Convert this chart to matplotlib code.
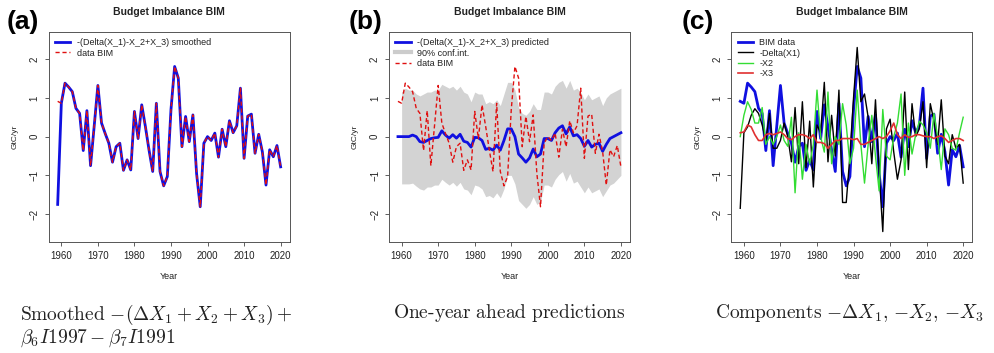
import matplotlib
matplotlib.use("Agg")
import matplotlib.pyplot as plt
from matplotlib.lines import Line2D

plt.rcParams["mathtext.fontset"] = "cm"
plt.rcParams["font.family"] = ["Liberation Sans", "DejaVu Sans"]

years = list(range(1959, 2021))

# data BIM
bim = [0.91, 0.86, 1.38, 1.28, 1.16, 0.73, 0.60, -0.36, 0.67, -0.75,
       0.28, 1.32, 0.35, 0.08, -0.17, -0.66, -0.26, -0.17, -0.87, -0.60,
       -0.86, 0.65, -0.05, 0.82, 0.26, -0.35, -0.90, 0.86, -0.90, -1.27,
       -1.03, 0.70, 1.81, 1.51, -0.26, 0.52, -0.13, 0.56, -0.95, -1.81,
       -0.17, 0.00, -0.10, 0.09, -0.53, 0.19, -0.26, 0.41, 0.10, 0.28,
       1.25, -0.56, 0.53, 0.58, -0.43, 0.06, -0.39, -1.25, -0.34, -0.52,
       -0.23, -0.78]

# smoothed -(Delta(X_1)-X_2+X_3)
smoothed = [-1.75, 0.86, 1.38, 1.28, 1.16, 0.73, 0.60, -0.36, 0.67, -0.75,
            0.28, 1.32, 0.35, 0.08, -0.17, -0.66, -0.26, -0.17, -0.87, -0.60,
            -0.86, 0.65, -0.05, 0.82, 0.26, -0.35, -0.90, 0.86, -0.90, -1.27,
            -1.03, 0.70, 1.81, 1.51, -0.26, 0.52, -0.13, 0.56, -0.95, -1.81,
            -0.17, 0.00, -0.10, 0.09, -0.53, 0.19, -0.26, 0.41, 0.10, 0.28,
            1.25, -0.56, 0.53, 0.58, -0.43, 0.06, -0.39, -1.25, -0.34, -0.52,
            -0.23, -0.78]

# one-year ahead predictions
predicted = [0.00, 0.00, 0.00, 0.00, 0.04, 0.00, -0.13, -0.15, -0.10, -0.05,
             -0.03, -0.02, 0.15, 0.04, -0.04, 0.05, -0.04, 0.06, -0.12, -0.15,
             -0.27, -0.02, -0.03, -0.10, -0.33, -0.30, -0.35, -0.22, -0.35, -0.10,
             0.20, 0.20, 0.00, -0.45, -0.55, -0.66, -0.55, -0.32, -0.52, -0.45,
             -0.05, -0.05, -0.10, 0.10, 0.22, 0.28, 0.07, 0.25, 0.02, 0.05,
             -0.05, -0.25, -0.10, -0.27, -0.20, -0.17, -0.38, -0.20, -0.05, 0.00,
             0.05, 0.10]

ci_years = list(range(1960, 2021))
ci_upper = [1.15, 1.25, 1.20, 1.20, 1.10, 1.05, 1.10, 1.15, 1.15, 1.20,
            1.20, 1.35, 1.30, 1.25, 1.30, 1.20, 1.30, 1.15, 1.10, 0.90,
            1.15, 1.10, 1.10, 0.85, 0.90, 0.85, 0.95, 0.80, 1.10, 1.40,
            1.40, 1.20, 0.75, 0.60, 0.55, 0.65, 0.85, 0.70, 0.70, 1.15,
            1.15, 1.10, 1.30, 1.40, 1.45, 1.25, 1.45, 1.20, 1.25, 1.15,
            0.95, 1.10, 0.95, 1.00, 1.05, 0.80, 1.00, 1.10, 1.15, 1.20,
            1.25]
ci_lower = [-1.22, -1.22, -1.22, -1.20, -1.28, -1.35, -1.38, -1.30, -1.30, -1.25,
            -1.25, -1.10, -1.18, -1.25, -1.18, -1.28, -1.18, -1.35, -1.38, -1.50,
            -1.25, -1.28, -1.35, -1.55, -1.52, -1.58, -1.45, -1.58, -1.35, -1.00,
            -1.00, -1.22, -1.65, -1.75, -1.85, -1.75, -1.55, -1.75, -1.68, -1.25,
            -1.25, -1.30, -1.10, -0.98, -0.90, -1.15, -0.95, -1.20, -1.15, -1.30,
            -1.45, -1.30, -1.45, -1.40, -1.35, -1.55, -1.40, -1.25, -1.20, -1.10,
            -1.00]

# components
neg_dx1 = [-1.85, 0.10, 0.25, 0.55, 0.72, 0.60, 0.30, -0.10, 0.60, -0.30,
           -0.30, -0.10, 0.35, 0.00, -0.65, 0.75, -0.70, 0.90, -0.80, 0.40,
           -1.30, 0.30, 0.10, 1.40, -0.65, 0.55, -0.50, 1.20, -1.70, -1.70,
           -0.50, 1.00, 2.30, 0.90, 1.10, 0.50, -0.70, 0.95, -0.90, -2.45,
           0.20, 0.45, -0.40, -1.10, -0.60, 1.15, -0.85, 0.85, 0.00, 0.20,
           0.90, -0.80, 0.85, 0.40, -0.20, 0.95, -0.50, -0.70, 0.05, -0.30,
           -0.20, -1.20]
neg_x2 = [0.00, 0.55, 0.90, 0.70, 0.35, 0.35, 0.75, -0.20, 0.00, -0.20,
          0.00, 0.30, -0.10, -0.25, 0.50, -1.45, 0.10, -1.10, -0.20, -0.70,
          -0.20, 1.20, 0.00, -0.40, 1.15, -0.70, 0.00, -0.20, 0.85, 0.30,
          -0.70, -0.30, 1.20, -0.20, -1.20, -0.20, 0.55, -0.50, -1.40, 0.70,
          -0.50, -0.60, 0.00, 0.35, 1.10, -1.00, 0.35, -0.45, 0.05, 0.40,
          0.30, 0.10, -0.30, 0.60, 0.00, -0.85, 0.20, 0.05, -0.30, -0.35,
          0.10, 0.50]
neg_x3 = [0.10, 0.12, 0.30, 0.25, 0.05, -0.10, -0.10, 0.05, 0.08, 0.05,
          0.08, 0.12, 0.05, -0.05, -0.08, 0.00, 0.05, 0.05, 0.02, -0.05,
          0.05, -0.15, -0.15, -0.18, -0.30, -0.20, -0.10, -0.10, -0.05, -0.05,
          -0.05, -0.08, -0.05, -0.20, -0.20, -0.15, -0.10, -0.05, 0.00, -0.05,
          0.00, 0.15, 0.35, 0.05, -0.05, 0.05, -0.02, 0.00, 0.05, 0.05,
          0.02, 0.00, 0.00, -0.05, 0.00, 0.02, -0.05, -0.15, -0.10, -0.05,
          -0.05, -0.10]

panel_tags = ["(a)", "(b)", "(c)"]
caption_a1 = r"$\mathrm{Smoothed}\ {-}(\Delta X_1 + X_2 + X_3) +$"
caption_a2 = r"$\beta_6 I1997 - \beta_7 I1991$"
caption_b = r"$\mathrm{One\text{-}year\ ahead\ predictions}$"
caption_c = r"$\mathrm{Components}\ {-}\Delta X_1,\, {-}X_2,\, {-}X_3$"

txt = "#222222"
fig = plt.figure(figsize=(9.95, 3.53), dpi=100)
lefts = [0.049, 0.391, 0.735]
axes = [fig.add_axes([l, 0.3144, 0.242, 0.595]) for l in lefts]

leg_kw = dict(loc="upper left", frameon=False, fontsize=6.5, handlelength=1.7,
              handletextpad=0.7, borderaxespad=0.3, labelspacing=0.15, labelcolor=txt)

ax = axes[0]
ax.plot(years, smoothed, color="#1010e0", lw=2.0, label="-(Delta(X_1)-X_2+X_3) smoothed")
ax.plot(years, bim, color="#e01010", lw=1.0, ls=(0, (3, 2)), label="data BIM")
ax.legend(**leg_kw)

ax = axes[1]
ax.fill_between(ci_years, ci_lower, ci_upper, color="#d3d3d3", lw=0)
ax.plot(years, predicted, color="#1010e0", lw=2.0)
ax.plot(years, bim, color="#e01010", lw=1.0, ls=(0, (3, 2)))
handles = [Line2D([], [], color="#1010e0", lw=2.0),
           Line2D([], [], color="#cccccc", lw=3),
           Line2D([], [], color="#e01010", lw=1.0, ls=(0, (3, 2)))]
labels = ["-(Delta(X_1)-X_2+X_3) predicted", "90% conf.int.", "data BIM"]
ax.legend(handles, labels, **leg_kw)

ax = axes[2]
ax.plot(years, bim, color="#1010e0", lw=2.0, label="BIM data")
ax.plot(years, neg_dx1, color="black", lw=1.0, label="-Delta(X1)")
ax.plot(years, neg_x2, color="#33dd33", lw=1.0, label="-X2")
ax.plot(years, neg_x3, color="#e03030", lw=1.2, label="-X3")
ax.legend(**leg_kw)

for ax in axes:
    ax.set_xlim(1956.56, 2022.44)
    ax.set_ylim(-2.72, 2.7)
    ax.set_xticks([1960, 1970, 1980, 1990, 2000, 2010, 2020])
    ax.set_yticks([-2, -1, 0, 1, 2])
    ax.tick_params(labelsize=7, length=3, width=0.6, colors="#444444", labelcolor=txt)
    for lab in ax.get_yticklabels():
        lab.set_rotation(90)
        lab.set_va("center")
    for s in ax.spines.values():
        s.set_linewidth(0.7)
        s.set_color("#555555")
    ax.set_xlabel("Year", fontsize=6.5, color=txt, labelpad=8)
    ax.set_ylabel("GtC/yr", fontsize=6, color=txt, labelpad=8)
    ax.set_title("Budget Imbalance BIM", fontsize=7.5, fontweight="bold", color=txt, pad=12)

tag_x = [0.007, 0.35, 0.685]
for x, tag in zip(tag_x, panel_tags):
    fig.text(x, 0.937, tag, fontsize=19, fontweight="bold", va="center", ha="left")

fig.text(0.02, 0.108, caption_a1, fontsize=14, va="center", ha="left", color=txt)
fig.text(0.02, 0.042, caption_a2, fontsize=14, va="center", ha="left", color=txt)
fig.text(0.395, 0.113, caption_b, fontsize=14, va="center", ha="left", color=txt)
fig.text(0.719, 0.113, caption_c, fontsize=14, va="center", ha="left", color=txt)

fig.savefig("out.png", dpi=100)
